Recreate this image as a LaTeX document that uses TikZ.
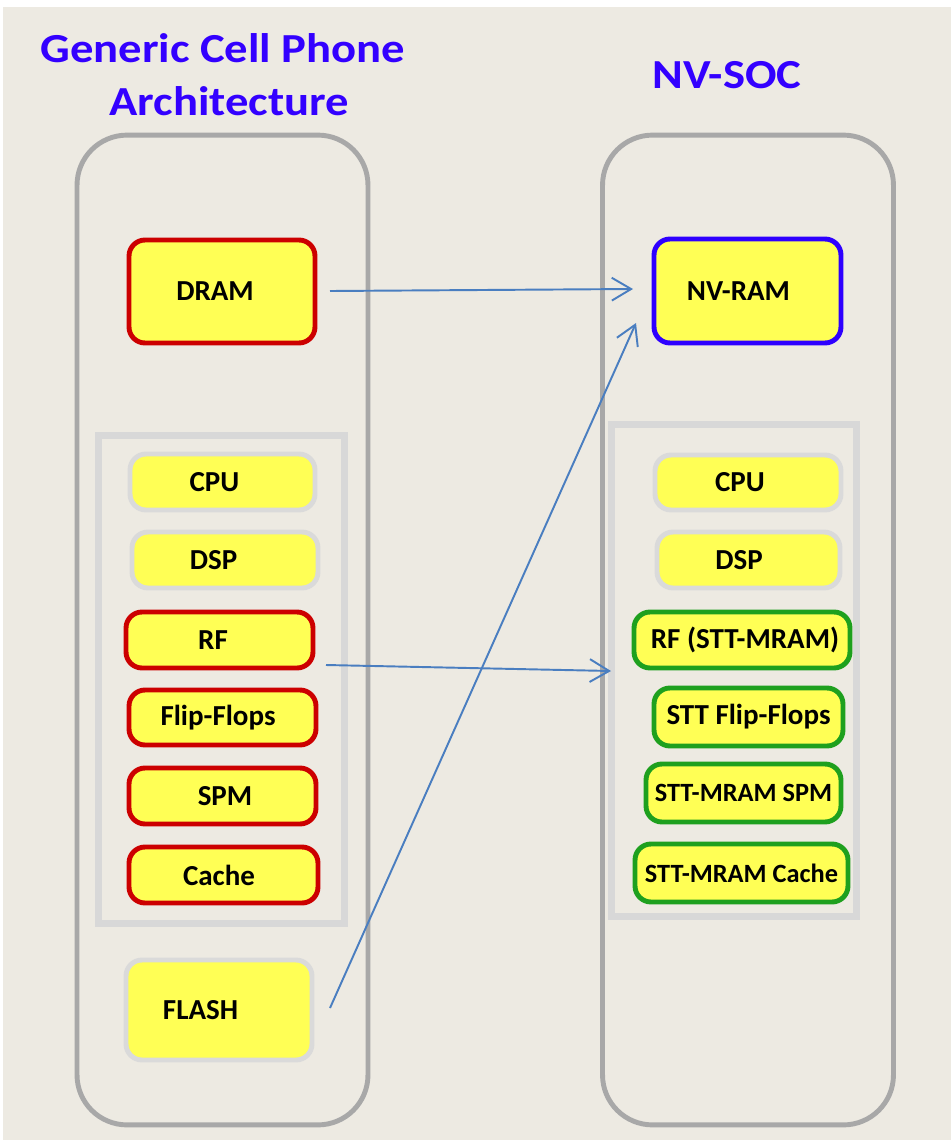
\documentclass[tikz,border=0pt]{standalone}
\usepackage{fontspec}
\setmainfont{Carlito}
\newfontfamily\ttlfont[FakeStretch=1.13]{Carlito}
\usetikzlibrary{arrows.meta}
\newcommand\padR[1]{\rule{#1}{0pt}}
\definecolor{bgc}{RGB}{237,234,226}
\definecolor{ttl}{RGB}{51,0,255}
\definecolor{bigc}{RGB}{168,168,168}
\definecolor{grpc}{RGB}{216,216,216}
\definecolor{ylw}{RGB}{255,255,85}
\definecolor{redc}{RGB}{204,0,0}
\definecolor{bluec}{RGB}{46,0,255}
\definecolor{greenc}{RGB}{30,160,30}
\definecolor{grayb}{RGB}{218,218,218}
\definecolor{arrc}{RGB}{74,126,192}
\tikzset{
  bigbox/.style={draw=bigc,line width=2.8pt,rounded corners=1cm,inner sep=0pt,
    minimum width=5.82cm,minimum height=19.8cm},
  grpbox/.style={draw=grpc,line width=4pt,inner sep=0pt},
  ybox/.style={fill=ylw,line width=2.8pt,rounded corners=0.32cm,inner sep=0pt,
    minimum height=1.12cm,font=\bfseries\fontsize{16.5}{18}\selectfont},
  smallt/.style={font=\bfseries\fontsize{15}{17}\selectfont},
  redb/.style={ybox,draw=redc},
  blueb/.style={ybox,draw=bluec},
  greenb/.style={ybox,draw=greenc},
  grayy/.style={ybox,draw=grayb},
  ttlnode/.style={text=ttl,font=\ttlfont\bfseries\fontsize{23.5}{30}\selectfont,align=center},
  arr/.style={draw=arrc,line width=1.1pt,-{Straight Barb[length=11pt,width=13pt,line width=1.1pt]}}
}
\begin{document}
\begin{tikzpicture}[x=0.02cm,y=-0.02cm]
\useasboundingbox (0,0) rectangle (951,1140);
\fill[white] (0,0) rectangle (951,1140);
\fill[bgc] (3,7) rectangle (951,1140);
% titles
\node[ttlnode] (t1) at (223,75) {Generic Cell Phone\\\hspace{0.25cm}Architecture};
\node[ttlnode] (t2) at (727,75) {NV-SOC};
% big containers
\node[bigbox] (L) at (222.5,630) {};
\node[bigbox] (R) at (748,630) {};
% groups
\node[grpbox,minimum width=4.94cm,minimum height=9.78cm] (LG) at (221.5,679.5) {};
\node[grpbox,minimum width=4.92cm,minimum height=9.86cm] (RG) at (734,670.5) {};
% left column
\node[redb,minimum width=3.72cm,minimum height=2.06cm] (dram) at (222,291.5) {DRAM\padR{0.28cm}};
\node[grayy,minimum width=3.7cm] (cpuL) at (222.5,482) {CPU\padR{0.32cm}};
\node[grayy,minimum width=3.72cm] (dspL) at (225,560) {DSP\padR{0.46cm}};
\node[redb,minimum width=3.74cm] (rf) at (219.5,640) {RF\padR{0.26cm}};
\node[redb,minimum width=3.74cm,minimum height=1.1cm] (ff) at (222.5,717.5) {Flip-Flops\padR{0.18cm}};
\node[redb,minimum width=3.74cm] (spm) at (222.5,796) {\padR{0.1cm}SPM};
\node[redb,minimum width=3.78cm] (cache) at (223.5,875) {Cache\padR{0.18cm}};
\node[grayy,minimum width=3.72cm,minimum height=2.0cm] (flash) at (219,1010) {FLASH\padR{0.74cm}};
% right column
\node[blueb,minimum width=3.74cm,minimum height=2.08cm] (nvram) at (747.5,291) {NV-RAM\padR{0.36cm}};
\node[grayy,minimum width=3.72cm,minimum height=1.1cm] (cpuR) at (748,482.5) {CPU\padR{0.32cm}};
\node[grayy,minimum width=3.66cm] (dspR) at (748.5,560) {DSP\padR{0.38cm}};
\node[greenb,minimum width=4.32cm] (rfR) at (742,640) {\padR{0.12cm}RF (STT-MRAM)};
\node[greenb,minimum width=3.78cm,minimum height=1.16cm] (ffR) at (748.5,717) {STT Flip-Flops};
\node[greenb,smallt,minimum width=3.9cm,minimum height=1.16cm] (spmR) at (743.5,793) {STT-MRAM SPM};
\node[greenb,smallt,minimum width=4.26cm,minimum height=1.16cm] (cacheR) at (741.5,873) {STT-MRAM Cache};
% connector ends
\coordinate (dramOut) at (330,291);
\coordinate (nvIn1) at (633,289);
\coordinate (rfOut) at (326,665);
\coordinate (rfIn) at (611,671);
\coordinate (flashOut) at (330,1008);
\coordinate (nvIn2) at (636,323);
\draw[arr] (dramOut) -- (nvIn1);
\draw[arr] (rfOut) -- (rfIn);
\draw[arr] (flashOut) -- (nvIn2);
\end{tikzpicture}
\end{document}
